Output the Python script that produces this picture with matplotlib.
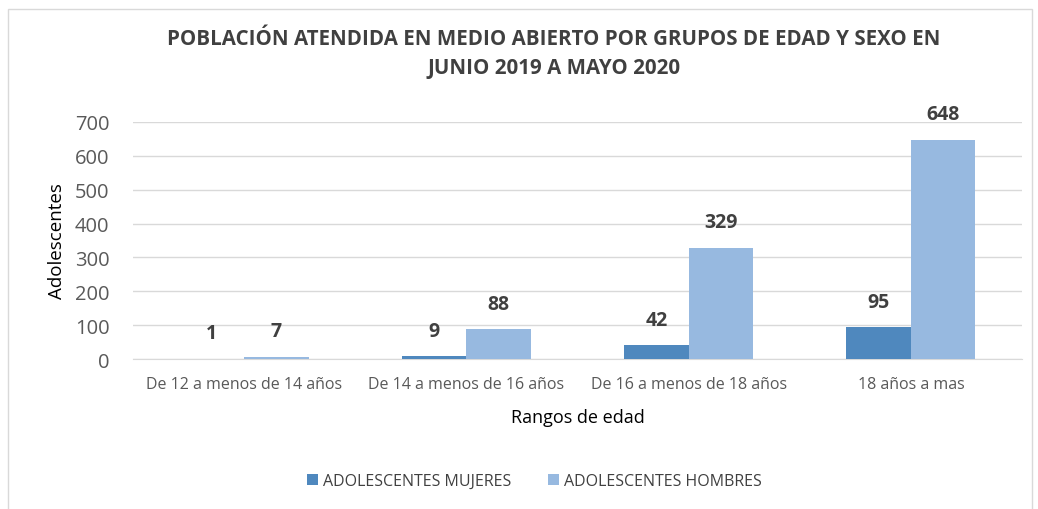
import matplotlib
matplotlib.use("Agg")
import matplotlib.pyplot as plt
import numpy as np
from matplotlib.patches import Rectangle

categories = ["De 12 a menos de 14 años", "De 14 a menos de 16 años",
              "De 16 a menos de 18 años", "18 años a mas"]
mujeres = [1, 9, 42, 95]
hombres = [7, 88, 329, 648]
series_names = ["ADOLESCENTES MUJERES", "ADOLESCENTES HOMBRES"]
title = "POBLACIÓN ATENDIDA EN MEDIO ABIERTO POR GRUPOS DE EDAD Y SEXO EN\nJUNIO 2019 A MAYO 2020"

plt.rcParams['font.family'] = ['Open Sans', 'DejaVu Sans']

fig = plt.figure(figsize=(10.38, 5.10), dpi=100)
fig.patch.set_facecolor("white")
# outer chart frame
fig.add_artist(Rectangle((8/1038, -0.05), (1032-8)/1038, 1 - 10/510 + 0.05,
                         transform=fig.transFigure, fill=False,
                         edgecolor="#d9d9d9", linewidth=1))

ax = fig.add_axes([133/1038, 1 - 360/510, (1022-133)/1038, (360-123)/510])
x = np.arange(len(categories))
w = 0.29
c1 = "#4F88BE"
c2 = "#97B9E0"
b1 = ax.bar(x - w/2, mujeres, w, color=c1, label=series_names[0], zorder=3)
b2 = ax.bar(x + w/2, hombres, w, color=c2, label=series_names[1], zorder=3)

for bars, vals in ((b1, mujeres), (b2, hombres)):
    for r, v in zip(bars, vals):
        ax.annotate(str(v), (r.get_x() + r.get_width()/2, v),
                    xytext=(0, 11), textcoords="offset points",
                    ha="center", va="bottom", fontsize=14, fontweight="bold",
                    color="#404040")

ax.set_xlim(-0.5, len(categories) - 0.5)
ax.set_ylim(0, 700)
ax.set_yticks(range(0, 701, 100))
ax.set_xticks(x)
ax.set_xticklabels(categories)
ax.yaxis.grid(True, color="#d9d9d9", linewidth=1, zorder=0)
ax.set_axisbelow(True)
for s in ("top", "right", "left"):
    ax.spines[s].set_visible(False)
ax.spines["bottom"].set_color("#d9d9d9")
ax.tick_params(axis="both", length=0)
ax.tick_params(axis="y", labelsize=14.5, colors="#595959", pad=17)
ax.tick_params(axis="x", labelsize=11.5, colors="#595959", pad=12)
ax.set_ylabel("Adolescentes", fontsize=13.5, color="#000000", labelpad=6)
ax.set_xlabel("Rangos de edad", fontsize=13, color="#000000", labelpad=12)

fig.text(554/1038, 1 - 54/510, title, ha="center", va="center",
         fontsize=14.8, fontweight="bold", color="#404040", linespacing=1.55)

fig.legend(handles=[b1, b2], labels=series_names, loc="center",
           bbox_to_anchor=(534/1038, 1 - 482/510), ncol=2, frameon=False,
           fontsize=11.5, labelcolor="#404040", handlelength=0.7,
           handleheight=0.7, columnspacing=2.3, handletextpad=0.3)

fig.savefig("out.png", dpi=100, facecolor="white")
